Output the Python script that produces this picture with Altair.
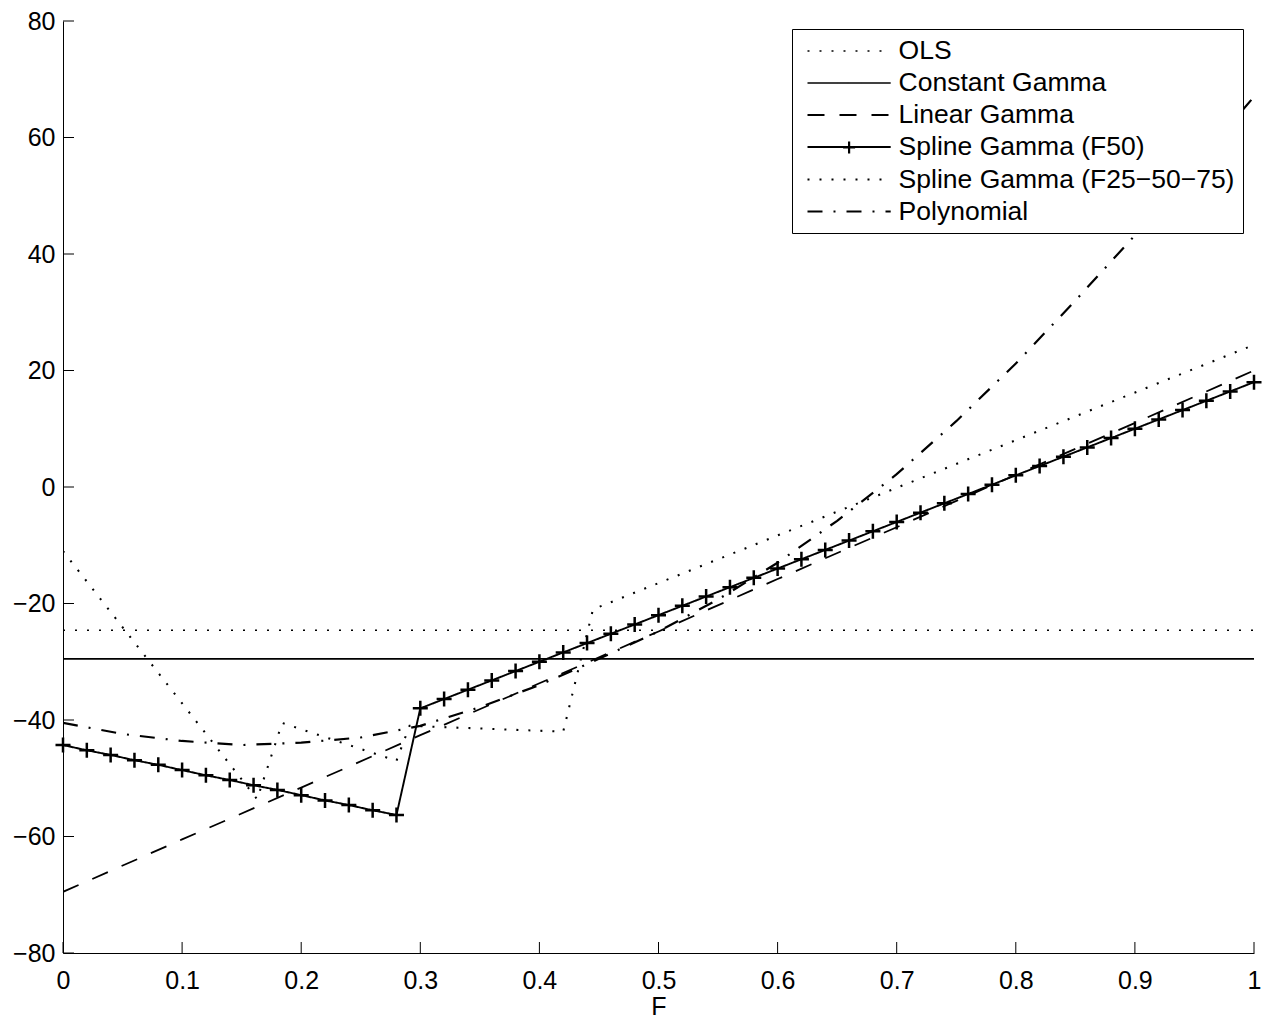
import altair as alt
import pandas as pd

SERIES = ["OLS", "Constant Gamma", "Linear Gamma", "Spline Gamma (F50)",
          "Spline Gamma (F25\u221250\u221275)", "Polynomial"]

F_OLS = [0.0, 1.0]
V_OLS = [-24.6, -24.6]

F_CONST = [0.0, 1.0]
V_CONST = [-29.5, -29.5]

F_LIN = [0.0, 0.1, 0.2, 0.3, 0.4, 0.5, 0.6, 0.7, 0.8, 0.9, 1.0]
V_LIN = [-69.5, -60.5, -51.6, -42.6, -33.7, -24.8, -15.8, -6.9, 2.1, 11.0, 20.0]

F_F50 = [0.00, 0.02, 0.04, 0.06, 0.08, 0.10, 0.12, 0.14, 0.16, 0.18, 0.20, 0.22, 0.24,
         0.26, 0.28, 0.30, 0.32, 0.34, 0.36, 0.38, 0.40, 0.42, 0.44, 0.46, 0.48, 0.50,
         0.52, 0.54, 0.56, 0.58, 0.60, 0.62, 0.64, 0.66, 0.68, 0.70, 0.72, 0.74, 0.76,
         0.78, 0.80, 0.82, 0.84, 0.86, 0.88, 0.90, 0.92, 0.94, 0.96, 0.98, 1.00]
V_F50 = [-44.3, -45.2, -46.0, -46.9, -47.7, -48.6, -49.5, -50.3, -51.2, -52.0, -52.9,
         -53.8, -54.6, -55.5, -56.3, -38.0, -36.4, -34.8, -33.2, -31.6, -30.0, -28.4,
         -26.8, -25.2, -23.6, -22.0, -20.4, -18.8, -17.2, -15.6, -14.0, -12.4, -10.8,
         -9.2, -7.6, -6.0, -4.4, -2.8, -1.2, 0.4, 2.0, 3.6, 5.2, 6.8, 8.4, 10.0, 11.6,
         13.2, 14.8, 16.4, 18.0]

F_F255075 = [0.0, 0.163, 0.184, 0.28, 0.291, 0.42, 0.445, 1.0]
V_F255075 = [-11.0, -53.6, -40.5, -47.0, -41.0, -42.0, -21.0, 24.4]

F_POLY = [0.0, 0.05, 0.1, 0.15, 0.2, 0.25, 0.3, 0.35, 0.4, 0.45, 0.5, 0.55, 0.6,
          0.65, 0.7, 0.75, 0.8, 0.85, 0.9, 0.95, 1.0]
V_POLY = [-40.5, -42.4, -43.6, -44.3, -43.9, -43.0, -41.0, -37.8, -34.0, -29.5, -24.8,
          -19.3, -13.0, -5.8, 2.2, 11.3, 21.2, 32.0, 43.2, 55.0, 67.0]

X_TICKS = [0.0, 0.1, 0.2, 0.3, 0.4, 0.5, 0.6, 0.7, 0.8, 0.9, 1.0]
Y_TICKS = [-80, -60, -40, -20, 0, 20, 40, 60, 80]

DASHES = [[2, 10], [1, 0], [17, 15], [1, 0], [2, 10], [15, 11, 2, 11]]
WIDTHS = [1.5, 2.2, 2.2, 2.5, 1.5, 2.2]

W, H = 1191, 932
FONT = "Liberation Sans"

rows = []
for name, fs, vs in zip(SERIES, [F_OLS, F_CONST, F_LIN, F_F50, F_F255075, F_POLY],
                        [V_OLS, V_CONST, V_LIN, V_F50, V_F255075, V_POLY]):
    for f, v in zip(fs, vs):
        rows.append({"F": f, "value": v, "series": name})
df = pd.DataFrame(rows)
df_f50 = df[df["series"] == SERIES[3]]

xscale = alt.Scale(domain=[0, 1], nice=False, zero=False)
yscale = alt.Scale(domain=[-80, 80], nice=False, zero=False)

axis_common = dict(ticks=False, tickSize=0, grid=False, domainColor="black", domainWidth=1,
                   labelFont=FONT, labelFontSize=25, labelColor="black", labelFlush=False,
                   titleFont=FONT, titleFontSize=25, titleFontWeight="normal",
                   titleColor="black")
xaxis = alt.Axis(values=X_TICKS, format="~g", title="F", labelPadding=15, titlePadding=1,
                 **axis_common)
yaxis = alt.Axis(values=Y_TICKS, format="~g", title=None, labelPadding=8, **axis_common)

lines = alt.Chart(df).mark_line(color="black", clip=True).encode(
    x=alt.X("F:Q", scale=xscale, axis=xaxis),
    y=alt.Y("value:Q", scale=yscale, axis=yaxis),
    strokeDash=alt.StrokeDash(
        "series:N",
        scale=alt.Scale(domain=SERIES, range=DASHES),
        sort=SERIES,
        legend=alt.Legend(
            title=None, orient="none", legendX=729, legendY=8,
            symbolType="M-3.2,0L3.2,0", symbolSize=676,
            symbolOffset=34.6, labelOffset=35,
            labelFontSize=26.5, labelFont=FONT, labelColor="black", labelLimit=600,
            padding=8, rowPadding=4,
            strokeColor="black", fillColor="white",
            symbolStrokeColor="black", symbolStrokeWidth=1.8,
            symbolFillColor="transparent",
        ),
    ),
    strokeWidth=alt.StrokeWidth("series:N", scale=alt.Scale(domain=SERIES, range=WIDTHS),
                                legend=None),
    detail="series:N",
)

points = alt.Chart(df_f50).mark_point(filled=False, strokeWidth=2.5, size=225, opacity=1,
                                      color="black").encode(
    x=alt.X("F:Q", scale=xscale),
    y=alt.Y("value:Q", scale=yscale),
    shape=alt.Shape(
        "series:N",
        scale=alt.Scale(domain=[SERIES[3]], range=["M-1,0L1,0M0,-1L0,1"]),
        legend=alt.Legend(
            title=None, orient="none", legendX=778.6, legendY=119,
            padding=0, labelExpr="''", labelFontSize=1,
            symbolSize=144, symbolStrokeColor="black", symbolStrokeWidth=2.2,
            symbolFillColor="transparent",
            strokeColor="transparent", fillColor="transparent",
        ),
    ),
)

ydf = pd.DataFrame({"v": Y_TICKS})
xdf = pd.DataFrame({"v": X_TICKS})

yticks = alt.Chart(ydf).mark_rule(color="black", strokeWidth=1).encode(
    y=alt.Y("v:Q", scale=yscale),
    x=alt.value(0),
    x2=alt.value(11),
)
xticks = alt.Chart(xdf).mark_rule(color="black", strokeWidth=1).encode(
    x=alt.X("v:Q", scale=xscale),
    y=alt.value(H),
    y2=alt.value(H - 11),
)

chart = alt.layer(lines, points, yticks, xticks).properties(
    width=W, height=H,
    autosize=alt.AutoSizeParams(type="none"),
    padding={"left": 55, "top": 13, "right": 8, "bottom": 68},
    background="white",
).configure_view(stroke=None).configure_axis(
    domainColor="black", domainWidth=1, grid=False,
    labelFont=FONT, labelFontSize=25, labelColor="black",
    titleFont=FONT, titleFontSize=25, titleFontWeight="normal", titleColor="black",
)

chart.save("out.html", embed_options={"renderer": "svg", "actions": False})
